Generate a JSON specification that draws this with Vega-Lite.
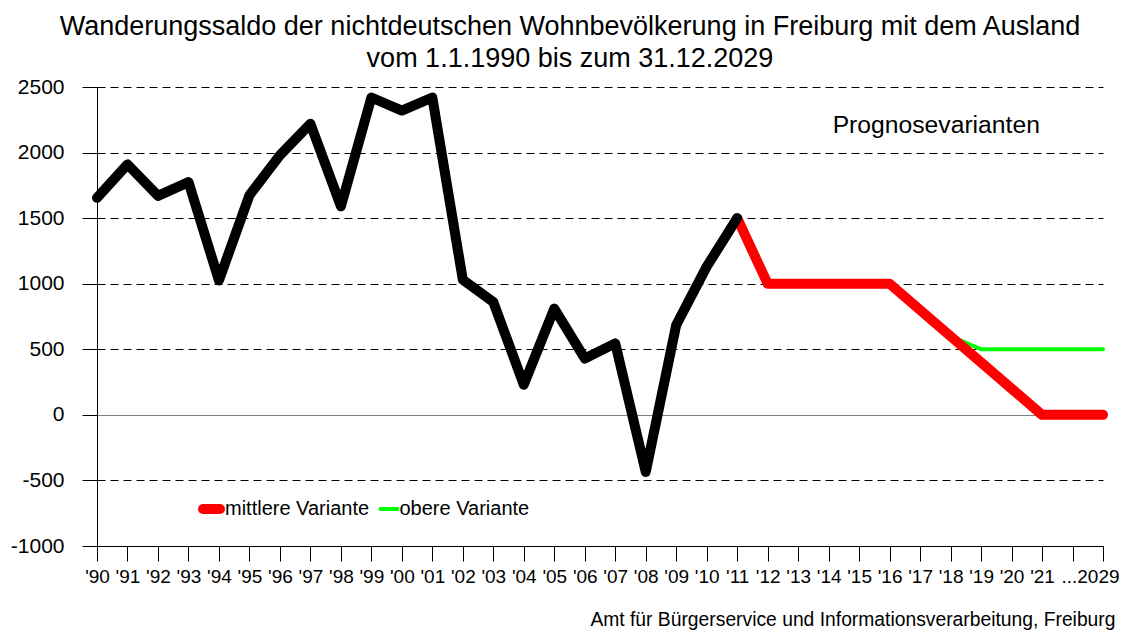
{
  "$schema": "https://vega.github.io/schema/vega-lite/v6.json",
  "autosize": "none",
  "width": 1006,
  "height": 459,
  "padding": {"left": 97, "top": 87, "right": 29, "bottom": 84},
  "background": "white",
  "title": {
    "text": ["Wanderungssaldo der nichtdeutschen Wohnbevölkerung in Freiburg mit dem Ausland", "vom 1.1.1990 bis zum 31.12.2029"],
    "anchor": "middle",
    "fontSize": 27,
    "fontWeight": "normal",
    "font": "Liberation Sans",
    "color": "black",
    "lineHeight": 32.4,
    "offset": 2.5,
    "dx": -30
  },
  "datasets": {
    "ist": [
      {"jahr": "'90", "saldo": 1655},
      {"jahr": "'91", "saldo": 1910},
      {"jahr": "'92", "saldo": 1670},
      {"jahr": "'93", "saldo": 1775},
      {"jahr": "'94", "saldo": 1025},
      {"jahr": "'95", "saldo": 1675},
      {"jahr": "'96", "saldo": 1980},
      {"jahr": "'97", "saldo": 2220},
      {"jahr": "'98", "saldo": 1590},
      {"jahr": "'99", "saldo": 2420},
      {"jahr": "'00", "saldo": 2320},
      {"jahr": "'01", "saldo": 2420},
      {"jahr": "'02", "saldo": 1030},
      {"jahr": "'03", "saldo": 860},
      {"jahr": "'04", "saldo": 230},
      {"jahr": "'05", "saldo": 810},
      {"jahr": "'06", "saldo": 430},
      {"jahr": "'07", "saldo": 545},
      {"jahr": "'08", "saldo": -435},
      {"jahr": "'09", "saldo": 685},
      {"jahr": "'10", "saldo": 1130},
      {"jahr": "'11", "saldo": 1500}
    ],
    "prognose": [
      {"jahr": "'11", "saldo": 1500, "variante": "mittlere Variante"},
      {"jahr": "'12", "saldo": 1000, "variante": "mittlere Variante"},
      {"jahr": "'13", "saldo": 1000, "variante": "mittlere Variante"},
      {"jahr": "'14", "saldo": 1000, "variante": "mittlere Variante"},
      {"jahr": "'15", "saldo": 1000, "variante": "mittlere Variante"},
      {"jahr": "'16", "saldo": 1000, "variante": "mittlere Variante"},
      {"jahr": "'17", "saldo": 800, "variante": "mittlere Variante"},
      {"jahr": "'18", "saldo": 600, "variante": "mittlere Variante"},
      {"jahr": "'19", "saldo": 400, "variante": "mittlere Variante"},
      {"jahr": "'20", "saldo": 200, "variante": "mittlere Variante"},
      {"jahr": "'21", "saldo": 0, "variante": "mittlere Variante"},
      {"jahr": "...2029", "saldo": 0, "variante": "mittlere Variante"},
      {"jahr": "'18", "saldo": 600, "variante": "obere Variante"},
      {"jahr": "'19", "saldo": 500, "variante": "obere Variante"},
      {"jahr": "'20", "saldo": 500, "variante": "obere Variante"},
      {"jahr": "'21", "saldo": 500, "variante": "obere Variante"},
      {"jahr": "...2029", "saldo": 500, "variante": "obere Variante"}
    ],
    "beschriftung": [
      {"jahr": "'14", "saldo": 2200, "text": "Prognosevarianten"}
    ]
  },
  "encoding": {
    "x": {
      "field": "jahr",
      "type": "ordinal",
      "scale": {
        "type": "point",
        "padding": 0,
        "domain": ["'90", "'91", "'92", "'93", "'94", "'95", "'96", "'97", "'98", "'99", "'00", "'01", "'02", "'03", "'04", "'05", "'06", "'07", "'08", "'09", "'10", "'11", "'12", "'13", "'14", "'15", "'16", "'17", "'18", "'19", "'20", "'21", " ", "...2029"]
      },
      "axis": {
        "title": "Amt für Bürgerservice und Informationsverarbeitung, Freiburg",
        "titleFontSize": 19.3,
        "titleFontWeight": "normal",
        "titleAnchor": "end",
        "titleAlign": "right",
        "titleBaseline": "alphabetic",
        "titleX": 1018,
        "titleY": 79,
        "labelAngle": 0,
        "labelFontSize": 19,
        "labelPadding": 6,
        "labelOffset": {"condition": {"test": "datum.value === '...2029'", "value": -13}, "value": 0},
        "tickSize": 15,
        "tickColor": "black",
        "domainColor": "black",
        "grid": false
      }
    },
    "y": {
      "field": "saldo",
      "type": "quantitative",
      "scale": {"domain": [-1000, 2500], "nice": false, "zero": false},
      "axis": {
        "title": null,
        "labelExpr": "'' + datum.value",
        "values": [-1000, -500, 0, 500, 1000, 1500, 2000, 2500],
        "labelFontSize": 21,
        "labelPadding": 18,
        "tickSize": 15,
        "tickColor": "black",
        "domainColor": "black",
        "grid": true,
        "gridColor": {"condition": {"test": "datum.value === 0", "value": "#808080"}, "value": "black"},
        "gridDash": {"condition": {"test": "datum.value === 0", "value": []}, "value": [8, 5]},
        "gridOpacity": 1,
        "gridWidth": 1
      }
    }
  },
  "layer": [
    {
      "mark": {"type": "rule", "color": "black", "strokeWidth": 1},
      "encoding": {"x": {"datum": "'11"}, "y": null}
    },
    {
      "mark": {"type": "rule", "color": "#808080", "strokeWidth": 1.5},
      "encoding": {"x": {"datum": "...2029"}, "y": null}
    },
    {
      "data": {"name": "prognose"},
      "transform": [{"filter": "datum.variante === 'obere Variante'"}],
      "mark": {"type": "line", "strokeCap": "round", "strokeJoin": "round"},
      "encoding": {
        "color": {"field": "variante", "type": "nominal", "scale": {"domain": ["mittlere Variante", "obere Variante"], "range": ["#ff0000", "#00ff00"]}, "legend": {"title": null, "encode": {"symbols": {"update": {"strokeCap": {"value": "round"}}}}}},
        "strokeWidth": {"field": "variante", "type": "nominal", "scale": {"domain": ["mittlere Variante", "obere Variante"], "range": [10, 4]}, "legend": {"title": null, "encode": {"symbols": {"update": {"strokeCap": {"value": "round"}}}}}}
      }
    },
    {
      "data": {"name": "prognose"},
      "transform": [{"filter": "datum.variante === 'mittlere Variante'"}],
      "mark": {"type": "line", "strokeCap": "round", "strokeJoin": "round"},
      "encoding": {
        "color": {"field": "variante", "type": "nominal", "legend": {"title": null, "encode": {"symbols": {"update": {"strokeCap": {"value": "round"}}}}}},
        "strokeWidth": {"field": "variante", "type": "nominal", "legend": {"title": null, "encode": {"symbols": {"update": {"strokeCap": {"value": "round"}}}}}}
      }
    },
    {
      "data": {"name": "ist"},
      "mark": {"type": "line", "color": "black", "strokeWidth": 10, "strokeCap": "round", "strokeJoin": "round"},
      "encoding": {}
    },
    {
      "data": {"name": "beschriftung"},
      "mark": {"type": "text", "align": "left", "baseline": "middle", "dx": 4, "fontSize": 24.7, "font": "Liberation Sans", "color": "black"},
      "encoding": {"text": {"field": "text", "type": "nominal"}}
    }
  ],
  "config": {
    "font": "Liberation Sans",
    "view": {"stroke": null},
    "axis": {"labelColor": "black", "titleColor": "black", "labelFont": "Liberation Sans", "titleFont": "Liberation Sans"},
    "legend": {
      "orient": "none",
      "legendX": 101,
      "legendY": 412,
      "direction": "horizontal",
      "symbolType": "stroke",
      "symbolSize": 289,
      "clipHeight": 20,
      "labelFontSize": 20,
      "labelFont": "Liberation Sans",
      "labelColor": "black",
      "labelOffset": 0,
      "columnPadding": 8.5,
      "padding": 0
    }
  }
}
